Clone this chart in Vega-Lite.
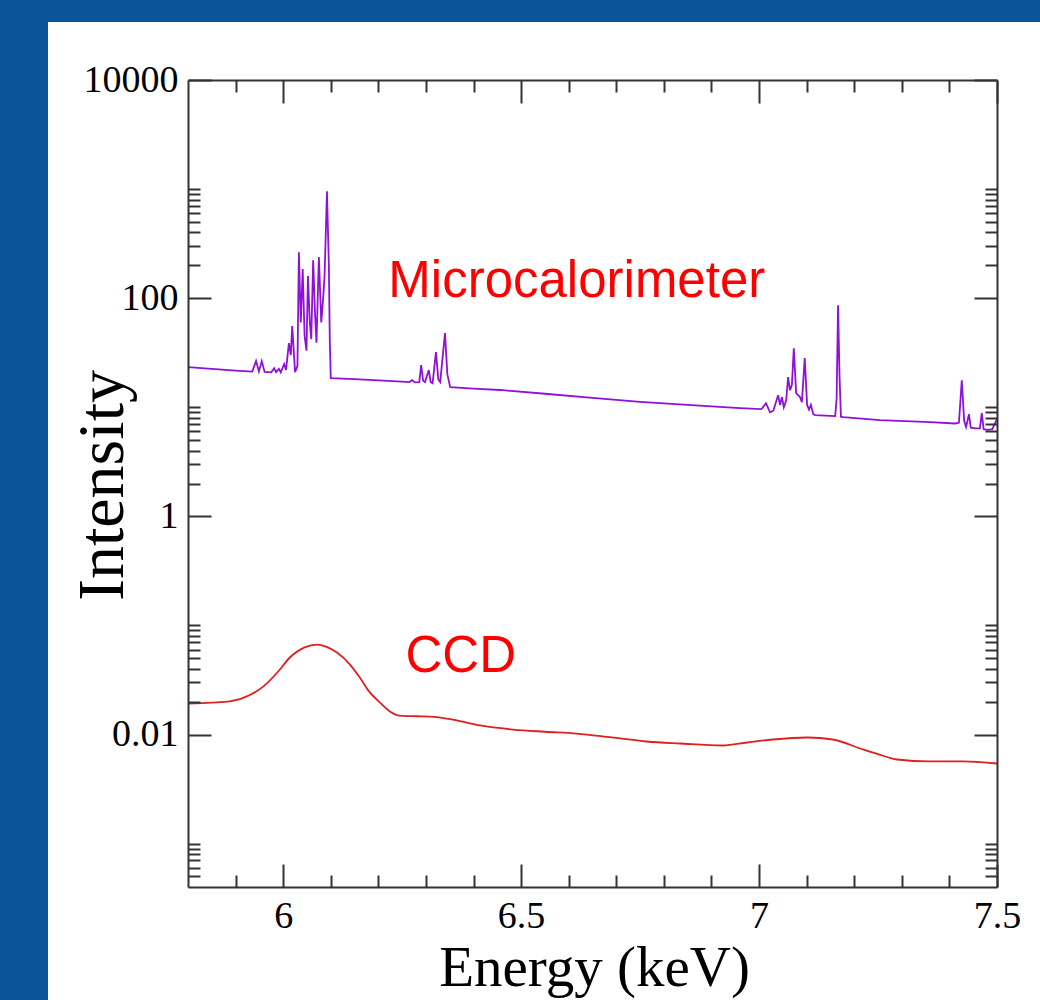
{
  "$schema": "https://vega.github.io/schema/vega-lite/v6.json",
  "width": 809,
  "height": 807,
  "autosize": {"type": "none"},
  "padding": {"left": 188, "top": 80, "right": 43, "bottom": 113},
  "background": "#0a5599",
  "config": {
    "view": {"stroke": null},
    "axis": {
      "domainColor": "#333333",
      "domainWidth": 2,
      "tickColor": "#333333",
      "tickWidth": 2,
      "labelFont": "Liberation Serif",
      "labelFontSize": 38,
      "labelColor": "#000000",
      "titleFont": "Liberation Serif",
      "titleFontWeight": "normal",
      "titleColor": "#000000",
      "grid": false,
      "labelOverlap": false,
      "labelFlush": false,
      "labelBound": false
    }
  },
  "datasets": {
    "micro": [
      {"E": 5.80, "I": 23.3}, {"E": 5.85, "I": 22.5}, {"E": 5.90, "I": 21.7}, {"E": 5.935, "I": 21.2},
      {"E": 5.943, "I": 26.5}, {"E": 5.949, "I": 21.3}, {"E": 5.955, "I": 26.5}, {"E": 5.961, "I": 21.1},
      {"E": 5.975, "I": 20.9}, {"E": 5.981, "I": 22.8}, {"E": 5.985, "I": 21.0}, {"E": 5.991, "I": 22.5},
      {"E": 5.995, "I": 20.9}, {"E": 6.002, "I": 24.9}, {"E": 6.006, "I": 22.0}, {"E": 6.012, "I": 38.7},
      {"E": 6.016, "I": 30}, {"E": 6.019, "I": 55.4}, {"E": 6.025, "I": 21}, {"E": 6.030, "I": 24},
      {"E": 6.033, "I": 264}, {"E": 6.037, "I": 60}, {"E": 6.041, "I": 185}, {"E": 6.045, "I": 45},
      {"E": 6.049, "I": 33}, {"E": 6.052, "I": 160}, {"E": 6.056, "I": 60}, {"E": 6.059, "I": 42},
      {"E": 6.063, "I": 223}, {"E": 6.067, "I": 70}, {"E": 6.070, "I": 39}, {"E": 6.075, "I": 238},
      {"E": 6.080, "I": 60}, {"E": 6.084, "I": 100}, {"E": 6.087, "I": 160}, {"E": 6.092, "I": 957},
      {"E": 6.096, "I": 200}, {"E": 6.098, "I": 40}, {"E": 6.100, "I": 18.5}, {"E": 6.15, "I": 18.1},
      {"E": 6.20, "I": 17.6}, {"E": 6.25, "I": 17.2}, {"E": 6.265, "I": 17.0}, {"E": 6.271, "I": 17.7},
      {"E": 6.277, "I": 16.9}, {"E": 6.286, "I": 17.0}, {"E": 6.290, "I": 24.3}, {"E": 6.294, "I": 17.5},
      {"E": 6.298, "I": 17.0}, {"E": 6.306, "I": 21.9}, {"E": 6.310, "I": 17.0}, {"E": 6.314, "I": 16.6},
      {"E": 6.321, "I": 32.0}, {"E": 6.326, "I": 18.0}, {"E": 6.330, "I": 17.0}, {"E": 6.340, "I": 47.8},
      {"E": 6.345, "I": 20}, {"E": 6.351, "I": 15.3}, {"E": 6.40, "I": 14.8}, {"E": 6.456, "I": 14.4},
      {"E": 6.55, "I": 13.3}, {"E": 6.65, "I": 12.2}, {"E": 6.75, "I": 11.2}, {"E": 6.85, "I": 10.5},
      {"E": 6.96, "I": 9.82}, {"E": 7.005, "I": 9.6}, {"E": 7.0146, "I": 10.9}, {"E": 7.023, "I": 9.0},
      {"E": 7.030, "I": 9.3}, {"E": 7.040, "I": 12.9}, {"E": 7.044, "I": 10.5}, {"E": 7.048, "I": 12.4},
      {"E": 7.052, "I": 10.0}, {"E": 7.057, "I": 11.5}, {"E": 7.061, "I": 18.9}, {"E": 7.065, "I": 14.3},
      {"E": 7.069, "I": 16}, {"E": 7.073, "I": 34.8}, {"E": 7.078, "I": 13.4}, {"E": 7.082, "I": 12.9},
      {"E": 7.086, "I": 12.4}, {"E": 7.090, "I": 11.1}, {"E": 7.096, "I": 28.2}, {"E": 7.101, "I": 10.5},
      {"E": 7.105, "I": 9.5}, {"E": 7.109, "I": 10.5}, {"E": 7.114, "I": 8.6}, {"E": 7.118, "I": 8.47},
      {"E": 7.160, "I": 8.3}, {"E": 7.163, "I": 12}, {"E": 7.166, "I": 86.3}, {"E": 7.169, "I": 20},
      {"E": 7.172, "I": 8.2}, {"E": 7.177, "I": 8.11}, {"E": 7.254, "I": 7.62}, {"E": 7.36, "I": 7.3},
      {"E": 7.412, "I": 7.1}, {"E": 7.420, "I": 7.2}, {"E": 7.426, "I": 17.7}, {"E": 7.431, "I": 7.5},
      {"E": 7.435, "I": 6.6}, {"E": 7.441, "I": 8.65}, {"E": 7.445, "I": 6.5}, {"E": 7.455, "I": 6.4},
      {"E": 7.464, "I": 6.4}, {"E": 7.468, "I": 8.84}, {"E": 7.472, "I": 6.3}, {"E": 7.480, "I": 6.2},
      {"E": 7.490, "I": 6.3}, {"E": 7.500, "I": 7.77}
    ],
    "ccd": [
      {"E": 5.80, "I": 0.0192}, {"E": 5.85, "I": 0.0196}, {"E": 5.888, "I": 0.0201}, {"E": 5.93, "I": 0.0230},
      {"E": 5.958, "I": 0.0275}, {"E": 5.99, "I": 0.0380}, {"E": 6.014, "I": 0.0508}, {"E": 6.045, "I": 0.0630},
      {"E": 6.071, "I": 0.0668}, {"E": 6.09, "I": 0.0640}, {"E": 6.113, "I": 0.0564}, {"E": 6.14, "I": 0.0440},
      {"E": 6.161, "I": 0.0333}, {"E": 6.18, "I": 0.0250}, {"E": 6.203, "I": 0.0197}, {"E": 6.225, "I": 0.0162},
      {"E": 6.245, "I": 0.0149}, {"E": 6.28, "I": 0.0147}, {"E": 6.309, "I": 0.0146}, {"E": 6.357, "I": 0.0137},
      {"E": 6.414, "I": 0.0121}, {"E": 6.483, "I": 0.0111}, {"E": 6.55, "I": 0.0106}, {"E": 6.617, "I": 0.0102},
      {"E": 6.69, "I": 0.0094}, {"E": 6.764, "I": 0.00863}, {"E": 6.834, "I": 0.00827}, {"E": 6.924, "I": 0.00793},
      {"E": 6.975, "I": 0.00845}, {"E": 7.029, "I": 0.0090}, {"E": 7.101, "I": 0.00939}, {"E": 7.155, "I": 0.0090},
      {"E": 7.218, "I": 0.00729}, {"E": 7.25, "I": 0.0066}, {"E": 7.29, "I": 0.0059}, {"E": 7.359, "I": 0.00566},
      {"E": 7.428, "I": 0.00566}, {"E": 7.50, "I": 0.00542}
    ],
    "notes": [
      {"E": 6.221, "I": 102, "label": "Microcalorimeter"},
      {"E": 6.257, "I": 0.0378, "label": "CCD"}
    ]
  },
  "resolve": {
    "scale": {"x": "shared", "y": "shared"},
    "axis": {"x": "independent", "y": "independent"}
  },
  "layer": [
    {
      "data": {"values": [{}]},
      "mark": {"type": "rect", "fill": "#ffffff", "clip": false},
      "encoding": {
        "x": {"datum": 5.5058, "type": "quantitative", "scale": {"domain": [5.8, 7.5], "nice": false, "zero": false}, "axis": null},
        "x2": {"datum": 7.8},
        "y": {"datum": 34000, "type": "quantitative", "scale": {"type": "log", "domain": [0.0004, 10000], "nice": false}, "axis": null},
        "y2": {"datum": 0.000001}
      }
    },
    {
      "data": {"name": "ccd"},
      "mark": {"type": "line", "color": "#dd2020", "strokeWidth": 1.8, "interpolate": "monotone"},
      "encoding": {
        "x": {
          "field": "E", "type": "quantitative",
          "scale": {"domain": [5.8, 7.5], "nice": false, "zero": false},
          "axis": {
            "orient": "bottom",
            "zindex": 2,
            "title": "Energy (keV)",
            "titleFontSize": 57,
            "titleBaseline": "alphabetic",
            "titleX": 406,
            "titleY": 98,
            "values": [5.9, 6, 6.1, 6.2, 6.3, 6.4, 6.5, 6.6, 6.7, 6.8, 6.9, 7, 7.1, 7.2, 7.3, 7.4, 7.5],
            "labelExpr": "datum.value == 6 ? '6' : datum.value == 6.5 ? '6.5' : datum.value == 7 ? '7' : datum.value == 7.5 ? '7.5' : ''",
            "tickSize": {"condition": {"test": "datum.value == 6 || datum.value == 6.5 || datum.value == 7 || datum.value == 7.5", "value": -23}, "value": -12},
            "labelPadding": 33
          }
        },
        "y": {
          "field": "I", "type": "quantitative",
          "scale": {"type": "log", "domain": [0.0004, 10000], "nice": false},
          "axis": {
            "orient": "left",
            "zindex": 2,
            "title": "Intensity",
            "titleFontSize": 66,
            "titleBaseline": "alphabetic",
            "titleX": -66,
            "titleY": 405,
            "values": [10000, 1000, 900, 800, 700, 600, 500, 400, 300, 200, 100, 10, 9, 8, 7, 6, 5, 4, 3, 2, 1, 0.1, 0.09, 0.08, 0.07, 0.06, 0.05, 0.04, 0.03, 0.02, 0.01, 0.001, 0.0009, 0.0008, 0.0007, 0.0006, 0.0005],
            "labelExpr": "datum.value == 10000 ? '10000' : datum.value == 100 ? '100' : datum.value == 1 ? '1' : datum.value == 0.01 ? '0.01' : ''",
            "tickSize": {"condition": {"test": "datum.value == 10000 || datum.value == 100 || datum.value == 1 || datum.value == 0.01", "value": -23}, "value": -12},
            "labelPadding": 33
          }
        }
      }
    },
    {
      "data": {"name": "micro"},
      "mark": {"type": "line", "color": "#9010d8", "strokeWidth": 1.8},
      "encoding": {
        "x": {
          "field": "E", "type": "quantitative",
          "axis": {
            "orient": "top",
            "zindex": 2,
            "title": null,
            "labels": false,
            "values": [5.9, 6, 6.1, 6.2, 6.3, 6.4, 6.5, 6.6, 6.7, 6.8, 6.9, 7, 7.1, 7.2, 7.3, 7.4, 7.5],
            "tickSize": {"condition": {"test": "datum.value == 6 || datum.value == 6.5 || datum.value == 7 || datum.value == 7.5", "value": -23}, "value": -12}
          }
        },
        "y": {
          "field": "I", "type": "quantitative",
          "axis": {
            "orient": "right",
            "zindex": 2,
            "title": null,
            "labels": false,
            "values": [10000, 1000, 900, 800, 700, 600, 500, 400, 300, 200, 100, 10, 9, 8, 7, 6, 5, 4, 3, 2, 1, 0.1, 0.09, 0.08, 0.07, 0.06, 0.05, 0.04, 0.03, 0.02, 0.01, 0.001, 0.0009, 0.0008, 0.0007, 0.0006, 0.0005],
            "tickSize": {"condition": {"test": "datum.value == 10000 || datum.value == 100 || datum.value == 1 || datum.value == 0.01", "value": -23}, "value": -12}
          }
        }
      }
    },
    {
      "data": {"name": "notes"},
      "mark": {"type": "text", "color": "#ff0000", "font": "Liberation Sans", "fontSize": 51, "align": "left", "baseline": "alphabetic"},
      "encoding": {
        "x": {"field": "E", "type": "quantitative", "axis": null},
        "y": {"field": "I", "type": "quantitative", "axis": null},
        "text": {"field": "label"}
      }
    }
  ]
}
